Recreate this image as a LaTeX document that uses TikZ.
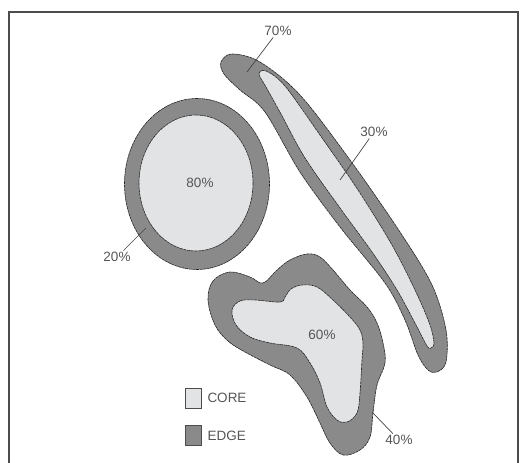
\documentclass[tikz,border=0pt]{standalone}
\usepackage{fontspec}
\setmainfont{Liberation Sans}
\usetikzlibrary{positioning}
\definecolor{edgegray}{HTML}{8A8A8A}
\definecolor{coregray}{HTML}{E1E3E5}
\definecolor{labelgray}{HTML}{555555}

\begin{document}
\begin{tikzpicture}[x=1pt, y=-1pt,
    outline/.style={draw=black!85, line width=0.6pt, dash pattern=on 3pt off 0.6pt},
    edgezone/.style={outline, fill=edgegray},
    corezone/.style={outline, fill=coregray},
    pct/.style={text=labelgray, font=\fontsize{13.5}{15}\selectfont, inner sep=1.5pt},
    leader/.style={draw=labelgray!80!black, line width=0.7pt},
    key/.style={draw=black!70, line width=0.6pt, minimum width=16pt, minimum height=20pt, inner sep=0pt}]
  \useasboundingbox (0,0) rectangle (520,463);
  \clip (0,0) rectangle (520,463);
  \draw[black!70, line width=2pt] (9,12) rectangle (518,480);

  % round patch
  \draw[edgezone] (197,184) ellipse [x radius=72.5, y radius=85.5];
  \draw[corezone] (196,183) ellipse [x radius=57, y radius=68];

  % long strip
  \draw[edgezone] plot[smooth cycle, tension=0.55] coordinates {
    (221,62) (232,54) (260,62) (300,95) (350,160) (400,232) (432,285)
    (446,330) (446,362) (437,372) (428,370) (418,355) (405,320) (385,283)
    (340,227) (300,172) (265,112) (240,90) (224,74)};
  \draw[corezone] plot[smooth cycle, tension=0.55] coordinates {
    (259,74) (266,71) (285,86) (320,135) (358,190) (392,245) (416,292)
    (430,325) (434,343) (431,348) (427,346) (416,325) (397,290) (372,252)
    (340,208) (305,158) (281,114) (266,87)};

  % lobed patch
  \draw[edgezone] plot[smooth cycle, tension=0.6] coordinates {
    (208,300) (213,281) (230,272) (250,277) (263,283) (277,270) (290,260)
    (307,254) (320,257) (333,270) (350,290) (367,307) (377,323) (383,343)
    (385,363) (377,385) (373,413) (370,437) (360,450) (343,455) (330,443)
    (320,423) (307,397) (290,375) (270,365) (245,352) (228,341) (215,325)};
  \draw[corezone] plot[smooth cycle, tension=0.6] coordinates {
    (232,310) (240,301) (255,300) (280,302) (285,297) (291,289) (302,285)
    (317,287) (333,300) (350,317) (360,330) (363,343) (362,360) (360,393)
    (357,413) (347,422) (337,420) (327,407) (320,383) (310,363) (297,348)
    (270,343) (250,337) (236,325)};

  % percentages
  \node[pct] (p80) at (200,183) {80\%};
  \node[pct] (p20) at (117,257) {20\%};
  \node[pct] (p70) at (278,31) {70\%};
  \node[pct] (p30) at (374,132) {30\%};
  \node[pct] (p60) at (322,335) {60\%};
  \node[pct] (p40) at (399,440) {40\%};

  \coordinate (t20) at (146,228);
  \coordinate (t70) at (247,72);
  \coordinate (t30) at (340,180);
  \coordinate (t40) at (372,412);
  \draw[leader] (p20) -- (t20);
  \draw[leader] (p70) -- (t70);
  \draw[leader] (p30) -- (t30);
  \draw[leader] (p40) -- (t40);

  % legend
  \node[key, fill=coregray] (kcore) at (193,398) {};
  \node[pct, right=4.5pt of kcore] (lcore) {CORE};
  \node[key, fill=edgegray, below=17pt of kcore] (kedge) {};
  \node[pct, right=4.5pt of kedge] (ledge) {EDGE};
\end{tikzpicture}
\end{document}
